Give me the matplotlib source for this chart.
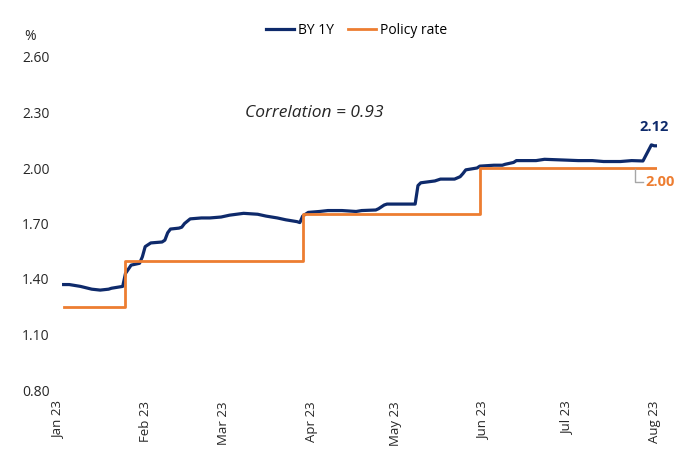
import matplotlib
matplotlib.use("Agg")
from matplotlib import pyplot as plt
import matplotlib.dates as mdates
import pandas as pd

plt.rcParams["font.family"] = ["Open Sans", "DejaVu Sans"]

# BY 1Y daily yield
by_dates = ["2023-01-03", "2023-01-05", "2023-01-09", "2023-01-13", "2023-01-16",
            "2023-01-19", "2023-01-20", "2023-01-24", "2023-01-25", "2023-01-27",
            "2023-01-30", "2023-01-31", "2023-02-01", "2023-02-03", "2023-02-07",
            "2023-02-08", "2023-02-09", "2023-02-10", "2023-02-13", "2023-02-14",
            "2023-02-15", "2023-02-17", "2023-02-21", "2023-02-24", "2023-02-28",
            "2023-03-03", "2023-03-08", "2023-03-13", "2023-03-16", "2023-03-20",
            "2023-03-23", "2023-03-27", "2023-03-28", "2023-03-29", "2023-03-31",
            "2023-04-04", "2023-04-07", "2023-04-12", "2023-04-17", "2023-04-19",
            "2023-04-24", "2023-04-25", "2023-04-27", "2023-04-28", "2023-05-08",
            "2023-05-09", "2023-05-10", "2023-05-15", "2023-05-17", "2023-05-22",
            "2023-05-24", "2023-05-25", "2023-05-26", "2023-05-30", "2023-05-31",
            "2023-06-05", "2023-06-08", "2023-06-09", "2023-06-12", "2023-06-13",
            "2023-06-20", "2023-06-23", "2023-06-30", "2023-07-05", "2023-07-10",
            "2023-07-14", "2023-07-20", "2023-07-24", "2023-07-28", "2023-07-31",
            "2023-08-01", "2023-08-02"]
by_values = [1.37, 1.37, 1.36, 1.345, 1.34,
             1.345, 1.35, 1.36, 1.43, 1.475,
             1.485, 1.52, 1.575, 1.595, 1.60,
             1.61, 1.65, 1.67, 1.675, 1.68,
             1.70, 1.725, 1.73, 1.73, 1.735,
             1.745, 1.755, 1.75, 1.74, 1.73,
             1.72, 1.71, 1.705, 1.74, 1.76,
             1.765, 1.77, 1.77, 1.765, 1.77,
             1.773, 1.78, 1.80, 1.805, 1.805,
             1.905, 1.92, 1.93, 1.94, 1.94,
             1.953, 1.97, 1.99, 2.00, 2.01,
             2.015, 2.015, 2.02, 2.03, 2.04,
             2.04, 2.047, 2.043, 2.04, 2.04,
             2.035, 2.035, 2.04, 2.038, 2.125,
             2.12, 2.12]

# policy rate steps
pol_dates = ["2023-01-03", "2023-01-25", "2023-03-29", "2023-05-31", "2023-08-02"]
pol_values = [1.25, 1.50, 1.75, 2.00, 2.00]

month_ticks = pd.date_range("2023-01-01", "2023-08-01", freq="MS")
yticks = [0.80, 1.10, 1.40, 1.70, 2.00, 2.30, 2.60]

navy = "#0E2A6B"
orange = "#ED7D31"

by_d = pd.to_datetime(by_dates)
pol_d = pd.to_datetime(pol_dates)

fig = plt.figure(figsize=(6.84, 4.51), dpi=100)
ax = fig.add_axes([58 / 684, 61 / 451, (657 - 58) / 684, (390 - 57) / 451])

ax.plot(by_d, by_values, color=navy, lw=2.3, label="BY 1Y", solid_joinstyle="round")
ax.step(pol_d, pol_values, where="post", color=orange, lw=2.0, label="Policy rate")

ax.set_xlim(pd.Timestamp("2023-01-01"), pd.Timestamp("2023-08-02"))
ax.set_ylim(0.8, 2.6)
ax.set_yticks(yticks)
ax.set_yticklabels([f"{v:.2f}" for v in yticks])
ax.set_xticks(month_ticks)
ax.xaxis.set_major_formatter(mdates.DateFormatter("%b %y"))
ax.tick_params(axis="x", rotation=90, length=0, pad=8, labelsize=9.5, colors="#262626")
ax.tick_params(axis="y", length=0, pad=6, labelsize=10, colors="#262626")
for s in ax.spines.values():
    s.set_visible(False)

fig.text(30 / 684, 1 - 37 / 451, "%", fontsize=10, color="#262626", ha="center", va="center")

ax.text(pd.Timestamp("2023-04-02"), 2.30, "Correlation = 0.93", fontsize=12.5,
        style="italic", ha="center", va="center", color="#262626")

ax.text(pd.Timestamp("2023-08-01"), 2.22, "2.12", fontsize=10.5, fontweight="bold",
        color=navy, ha="center", va="center")
ax.plot([pd.Timestamp("2023-07-25"), pd.Timestamp("2023-07-25"), pd.Timestamp("2023-07-28")],
        [1.995, 1.925, 1.925], color="#A6A6A6", lw=1)
ax.text(pd.Timestamp("2023-07-29"), 1.925, "2.00", fontsize=10.5, fontweight="bold",
        color=orange, ha="left", va="center", clip_on=False)

fig.legend(loc="upper center", bbox_to_anchor=(0.521, 0.977), ncol=2, frameon=False,
           fontsize=10, handlelength=2.0, columnspacing=1.0, handletextpad=0.3)

fig.savefig("out.png", dpi=100)
plt.close(fig)
